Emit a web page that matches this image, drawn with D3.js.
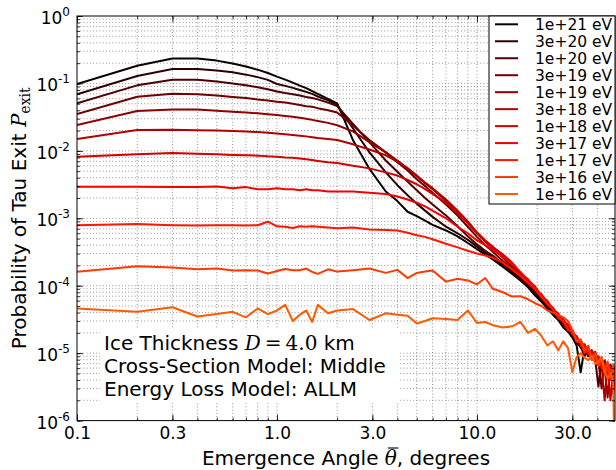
<!DOCTYPE html>
<html><head><meta charset="utf-8">
<script src="https://cdn.jsdelivr.net/npm/d3@7"></script>
<style>body{margin:0;background:#fff} svg{display:block} text{font-family:"DejaVu Sans",sans-serif}</style>
</head><body><svg id="chart" width="616" height="470"></svg>
<script>
// Emergence angles (degrees)
const angles = [0.1,0.2,0.3,0.4,0.5,0.6,0.7,0.8,0.9,1.0,1.1,1.2,1.3,1.4,1.5,1.6,1.8,2.0,
  2.4,2.9,3.5,4.0,4.5,5,5.5,6,7,8,9,10,
  11,12,13.5,15,16.5,18,19.5,21,22.5,24,25.5,27,28.5,30,31.5,33,34.5,36,37.5,39,40.5,42,43.5,45,46.5,48,49];

const p1e21 = [0.098,0.183,0.235,0.235,0.218,0.197,0.178,0.160,0.143,0.126,0.114,0.103,0.093,0.085,0.077,0.070,0.059,0.0506,
  0.0144,0.0054,0.0025,0.0018,0.00125,0.00108,0.00092,0.0008,0.00066,0.00054,0.00043,0.00035,
  2.9e-4,2.45e-4,1.9e-4,1.5e-4,1.2e-4,9.5e-5,7.2e-5,5.8e-5,4.6e-5,3.7e-5,3.1e-5,2.4e-5,2.1e-5,1.7e-5,1.3e-5,5.2e-6,1.2e-5,9e-6,1.05e-5,7.5e-6,8.5e-6,6e-6,7.5e-6,5e-6,6.5e-6,4.5e-6,6e-6];
const p3e20 = [0.069,0.129,0.164,0.164,0.156,0.146,0.135,0.124,0.113,0.098,0.092,0.086,0.080,0.075,0.070,0.064,0.056,0.048,
  0.0215,0.0095,0.0048,0.0031,0.0022,0.00165,0.0013,0.00105,0.00075,0.0006,0.00048,0.00038,
  3.1e-4,2.6e-4,2.0e-4,1.6e-4,1.25e-4,1.0e-4,7.8e-5,6.2e-5,4.8e-5,4.1e-5,3.2e-5,2.8e-5,2.1e-5,1.9e-5,1.4e-5,1.25e-5,9e-6,1.15e-5,8.5e-6,9.5e-6,7e-6,8e-6,5.5e-6,7e-6,4.8e-6,6e-6,5e-6];
const p1e20 = [0.0506,0.0937,0.1135,0.113,0.107,0.100,0.094,0.088,0.082,0.076,0.072,0.069,0.066,0.063,0.061,0.058,0.052,0.046,
  0.025,0.0135,0.0072,0.0049,0.0035,0.0026,0.002,0.0016,0.0011,0.00076,0.00054,0.00041,
  3.3e-4,2.8e-4,2.1e-4,1.7e-4,1.3e-4,1.05e-4,8.5e-5,6.4e-5,5.5e-5,4.0e-5,3.6e-5,2.6e-5,2.5e-5,1.8e-5,1.7e-5,1.2e-5,1.35e-5,9.5e-6,1.1e-5,8e-6,3.2e-6,8.5e-6,6e-6,7.2e-6,5.2e-6,6.2e-6,5.5e-6];
const p3e19 = [0.0351,0.0635,0.0704,0.069,0.066,0.063,0.061,0.058,0.056,0.0535,0.052,0.050,0.048,0.046,0.045,0.043,0.040,0.037,
  0.0235,0.0145,0.0095,0.0068,0.0051,0.0038,0.003,0.0024,0.0016,0.0011,0.00075,0.00053,
  4.0e-4,3.2e-4,2.3e-4,1.8e-4,1.4e-4,1.1e-4,8.8e-5,6.6e-5,5.6e-5,4.3e-5,3.5e-5,3.0e-5,2.3e-5,2.1e-5,1.6e-5,1.5e-5,1.15e-5,1.2e-5,9e-6,1.0e-5,7.5e-6,3e-6,7.8e-6,5.5e-6,6.8e-6,5e-6,6.5e-6];
const p1e19 = [0.0241,0.039,0.0412,0.041,0.0395,0.038,0.037,0.036,0.035,0.034,0.033,0.032,0.031,0.030,0.0288,0.0278,0.026,0.024,
  0.0195,0.0135,0.0095,0.0072,0.0055,0.0042,0.0033,0.0027,0.0018,0.00125,0.00085,0.0006,
  4.5e-4,3.6e-4,2.6e-4,1.9e-4,1.45e-4,1.15e-4,8.5e-5,7.2e-5,5.3e-5,4.6e-5,3.4e-5,3.1e-5,2.4e-5,2.2e-5,1.6e-5,1.55e-5,1.2e-5,1.25e-5,8.5e-6,1.05e-5,7e-6,8.5e-6,6e-6,2.2e-6,6.5e-6,4.5e-6,6e-6];
const p3e18 = [0.0150,0.0204,0.0206,0.0203,0.0200,0.0197,0.0194,0.0190,0.0186,0.0181,0.0177,0.0172,0.0168,0.0164,0.0159,0.0155,0.0150,0.0145,
  0.0125,0.0105,0.0086,0.0069,0.0055,0.0043,0.0034,0.0028,0.0019,0.0013,0.0009,0.00062,
  4.7e-4,3.8e-4,2.8e-4,2.1e-4,1.5e-4,1.2e-4,9.5e-5,7e-5,5.8e-5,4.4e-5,3.8e-5,2.9e-5,2.6e-5,2.0e-5,1.75e-5,1.4e-5,1.3e-5,1.0e-5,1.1e-5,8.5e-6,9e-6,6.5e-6,2e-6,7e-6,5.5e-6,3e-6,5e-6];
const p1e18 = [0.0082,0.0089,0.0093,0.0091,0.0089,0.0087,0.0086,0.0085,0.0083,0.0082,0.0080,0.0079,0.0077,0.0075,0.0073,0.0071,0.0068,0.0066,
  0.0060,0.0055,0.0048,0.0043,0.0037,0.0032,0.0027,0.0023,0.0017,0.0012,0.00085,0.0006,
  4.6e-4,3.7e-4,2.9e-4,2.2e-4,1.55e-4,1.25e-4,9e-5,7.5e-5,5.5e-5,4.7e-5,3.6e-5,3.2e-5,2.4e-5,2.2e-5,1.6e-5,1.5e-5,1.1e-5,1.2e-5,8e-6,9.5e-6,7e-6,8e-6,5.5e-6,6.5e-6,2e-6,5.5e-6,4.5e-6];
const p3e17 = [0.00294,0.00294,0.00292,0.0029,0.00296,0.0028,0.0029,0.0027,0.0027,0.0028,0.0027,0.0027,0.0026,0.0027,0.0026,0.0026,0.0025,0.0025,
  0.0025,0.0024,0.0023,0.0021,0.0019,0.0017,0.0015,0.0013,0.001,0.00075,0.0006,0.00047,
  4.0e-4,3.4e-4,2.7e-4,2.1e-4,1.6e-4,1.2e-4,9.8e-5,7e-5,6e-5,4.4e-5,3.9e-5,2.9e-5,2.7e-5,1.9e-5,1.8e-5,1.3e-5,1.35e-5,9.5e-6,1.05e-5,8e-6,8.8e-6,6e-6,7e-6,5e-6,6e-6,2.5e-6,5e-6];
const p1e17 = [0.00079,0.00082,0.00079,0.00078,0.00079,0.00079,0.00078,0.00079,0.00089,0.00076,0.00075,0.00072,0.00076,0.00075,0.00076,0.00075,0.00073,0.00071,
  0.00073,0.00068,0.00067,0.00066,0.00061,0.00056,0.00053,0.00049,0.00042,0.00037,0.00033,0.0003,
  2.8e-4,2.6e-4,2.2e-4,1.75e-4,1.4e-4,1.1e-4,9e-5,6.8e-5,5.4e-5,4.5e-5,3.3e-5,3e-5,2.2e-5,2.1e-5,1.5e-5,1.45e-5,1.0e-5,1.15e-5,8e-6,9e-6,6.5e-6,7.5e-6,5e-6,6e-6,4e-6,5e-6,4e-6];
const p3e16 = [1.61e-4,1.95e-4,1.87e-4,1.76e-4,1.8e-4,1.68e-4,1.69e-4,1.68e-4,1.52e-4,1.65e-4,1.77e-4,1.7e-4,1.7e-4,1.8e-4,1.6e-4,1.5e-4,1.75e-4,1.62e-4,
  1.7e-4,1.8e-4,1.55e-4,1.72e-4,1.3e-4,1.55e-4,1.62e-4,1.68e-4,1.15e-4,1.27e-4,1.2e-4,1.05e-4,
  1.3e-4,9e-5,8e-5,6.9e-5,7e-5,6.3e-5,5.5e-5,5e-5,4.3e-5,4.0e-5,3.7e-5,3.4e-5,3.0e-5,2.2e-5,1.5e-5,1.6e-5,1.1e-5,1.3e-5,8e-6,1e-5,6.5e-6,8.5e-6,5e-6,7.5e-6,4.5e-6,6.5e-6,4e-6];
const p1e16 = [4.6e-5,4.1e-5,4.8e-5,3.5e-5,3.8e-5,4.1e-5,3.4e-5,4.6e-5,3.8e-5,4.3e-5,5.2e-5,3.0e-5,3.7e-5,4.3e-5,2.9e-5,5.2e-5,3.9e-5,4.3e-5,
  4.5e-5,3.1e-5,3.9e-5,3.7e-5,3.6e-5,2.75e-5,3.0e-5,3.3e-5,3.2e-5,3.1e-5,4.3e-5,2.8e-5,
  2.9e-5,2.6e-5,2.4e-5,2.5e-5,2.9e-5,2.0e-5,2.3e-5,1.8e-5,1.3e-5,1.5e-5,1.1e-5,1.5e-5,1.2e-5,5.2e-6,8.8e-6,1.0e-5,8.5e-6,7.9e-6,9.3e-6,7e-6,7.5e-6,8.8e-6,5.5e-6,4.2e-6,5e-6,3.8e-6,1e-7];

const energyLabels = ["1e+21 eV","3e+20 eV","1e+20 eV","3e+19 eV","1e+19 eV","3e+18 eV","1e+18 eV","3e+17 eV","1e+17 eV","3e+16 eV","1e+16 eV"];
const seriesValues = [p1e21,p3e20,p1e20,p3e19,p1e19,p3e18,p1e18,p3e17,p1e17,p3e16,p1e16];
const seriesColors = ["#0b0000","#2c0000","#4d0000","#6f0000","#900000","#b20000","#d30000","#f50000","#ff1700","#ff3900","#ff5a00"];

const xTickValues = [0.1,0.3,1,3,10,30];
const xTickLabels = ["0.1","0.3","1.0","3.0","10.0","30.0"];
const yTickExponents = [0,-1,-2,-3,-4,-5,-6];
const annotationLines = ["Cross-Section Model: Middle","Energy Loss Model: ALLM"];

const L=77, T=16, R=615, B=420.6;
const svg = d3.select("#chart");
const x = d3.scaleLog().domain([0.1,49]).range([L,R]);
const y = d3.scaleLog().domain([1e-6,1]).range([B,T]);

// minor positions
const xMinor = [];
[0.1,1,10].forEach(d=>{for(let k=1;k<10;k++){const v=k*d; if(v>=0.1 && v<=49) xMinor.push(v);}});
const yMinor = [];
for(let e=-6;e<0;e++){for(let k=1;k<10;k++) yMinor.push(k*Math.pow(10,e));}
yMinor.push(1);

// grid
const grid = svg.append("g").attr("stroke","#8a8a8a").attr("stroke-width",0.9).attr("stroke-dasharray","1,2.2");
grid.selectAll("line.gx").data(xMinor.filter(v=>v>0.1)).join("line")
  .attr("x1",d=>x(d)).attr("x2",d=>x(d)).attr("y1",T).attr("y2",B);
grid.selectAll("line.gy").data(yMinor.filter(v=>v>1e-6 && v<1)).join("line")
  .attr("x1",L).attr("x2",R).attr("y1",d=>y(d)).attr("y2",d=>y(d));

// annotation background box
svg.append("rect").attr("x",100).attr("y",328).attr("width",300).attr("height",73).attr("fill","#fff");

// curves
svg.append("clipPath").attr("id","clip").append("rect").attr("x",L).attr("y",T).attr("width",R-L).attr("height",B-T);
const line = d3.line().x(d=>x(d[0])).y(d=>y(d[1]));
const curves = svg.append("g").attr("clip-path","url(#clip)");
seriesValues.forEach((vals,i)=>{
  curves.append("path").datum(angles.map((a,j)=>[a,vals[j]]))
    .attr("d",line).attr("fill","none").attr("stroke",seriesColors[i])
    .attr("stroke-width",2).attr("stroke-linejoin","round");
});

// axes (inward ticks)
function styleAxis(g){ g.select(".domain").remove(); g.selectAll("line").attr("stroke","#000").attr("stroke-width",0.8); }
const xMajor = d3.axisBottom(x).tickValues(xTickValues).tickSize(-6).tickSizeOuter(0).tickFormat((d,i)=>xTickLabels[i]);
const gxb = svg.append("g").attr("transform",`translate(0,${B})`).call(xMajor).call(styleAxis);
gxb.selectAll("text").attr("y",18).attr("dy",0).attr("font-size",17).attr("font-family","DejaVu Sans").attr("fill","#000");
svg.append("g").attr("transform",`translate(0,${B})`).call(d3.axisBottom(x).tickValues(xMinor).tickSize(-3).tickSizeOuter(0).tickFormat("")).call(styleAxis);
svg.append("g").attr("transform",`translate(0,${T})`).call(d3.axisTop(x).tickValues(xTickValues).tickSize(-6).tickSizeOuter(0).tickFormat("")).call(styleAxis);
svg.append("g").attr("transform",`translate(0,${T})`).call(d3.axisTop(x).tickValues(xMinor).tickSize(-3).tickSizeOuter(0).tickFormat("")).call(styleAxis);

const yVals = yTickExponents.map(e=>Math.pow(10,e));
const gyl = svg.append("g").attr("transform",`translate(${L},0)`)
  .call(d3.axisLeft(y).tickValues(yVals).tickSize(-6).tickSizeOuter(0).tickFormat("")).call(styleAxis);
gyl.selectAll(".tick").each(function(d,i){
  const t = d3.select(this).append("text").attr("x",-7).attr("y",7.5).attr("text-anchor","end")
    .attr("font-size",17).attr("font-family","DejaVu Sans").attr("fill","#000");
  t.append("tspan").text("10");
  t.append("tspan").attr("dy",-8).attr("font-size",12).text(String(yTickExponents[i]));
});
svg.append("g").attr("transform",`translate(${L},0)`).call(d3.axisLeft(y).tickValues(yMinor).tickSize(-3).tickSizeOuter(0).tickFormat("")).call(styleAxis);
svg.append("g").attr("transform",`translate(${R},0)`).call(d3.axisRight(y).tickValues(yVals).tickSize(-6).tickSizeOuter(0).tickFormat("")).call(styleAxis);
svg.append("g").attr("transform",`translate(${R},0)`).call(d3.axisRight(y).tickValues(yMinor).tickSize(-3).tickSizeOuter(0).tickFormat("")).call(styleAxis);

// frame
svg.append("rect").attr("x",L).attr("y",T).attr("width",R-L).attr("height",B-T)
  .attr("fill","none").attr("stroke","#000").attr("stroke-width",1);

// annotation text
const ann = svg.append("g").attr("font-size",20).attr("fill","#000");
const a1 = ann.append("text").attr("x",104).attr("y",350);
a1.append("tspan").text("Ice Thickness ");
a1.append("tspan").attr("font-family","DejaVu Serif").attr("font-style","italic").text("D");
a1.append("tspan").attr("font-family","DejaVu Serif").text("\u2009=\u20094.0");
a1.append("tspan").text(" km");
annotationLines.forEach((s,i)=>{
  ann.append("text").attr("x",104).attr("y",373+i*22.6).text(s);
});

// legend
const lg = svg.append("g");
lg.append("rect").attr("x",489).attr("y",T).attr("width",R-489).attr("height",188)
  .attr("fill","#fff").attr("stroke","#000").attr("stroke-width",1);
energyLabels.forEach((lab,i)=>{
  const yy = 24.3 + i*16.97;
  lg.append("line").attr("x1",495).attr("x2",518).attr("y1",yy).attr("y2",yy)
    .attr("stroke",seriesColors[i]).attr("stroke-width",2);
  lg.append("text").attr("x",535).attr("y",yy+5.5).attr("font-size",15.5).attr("fill","#000").text(lab);
});

// axis labels
const xl = svg.append("text").attr("x",(L+R)/2).attr("y",465).attr("text-anchor","middle").attr("font-size",20).attr("fill","#000");
xl.append("tspan").text("Emergence Angle ");
xl.append("tspan").attr("font-family","DejaVu Serif").attr("font-style","italic").text("\u03B8");
xl.append("tspan").text(", degrees");
// bar over theta
const thIdx = "Emergence Angle ".length;
const s0 = xl.node().getStartPositionOfChar(thIdx), e0 = xl.node().getEndPositionOfChar(thIdx);
svg.append("line").attr("x1",s0.x+3).attr("x2",e0.x+1.5).attr("y1",s0.y-17).attr("y2",s0.y-17)
  .attr("stroke","#000").attr("stroke-width",1.1);

const yl = svg.append("text").attr("transform",`translate(26,${(T+B)/2}) rotate(-90)`).attr("text-anchor","middle").attr("font-size",20).attr("fill","#000");
yl.append("tspan").text("Probability of Tau Exit ");
yl.append("tspan").attr("font-family","DejaVu Serif").attr("font-style","italic").text("P");
yl.append("tspan").attr("font-family","DejaVu Serif").attr("font-size",14).attr("dy",4).text("exit");
</script></body></html>
